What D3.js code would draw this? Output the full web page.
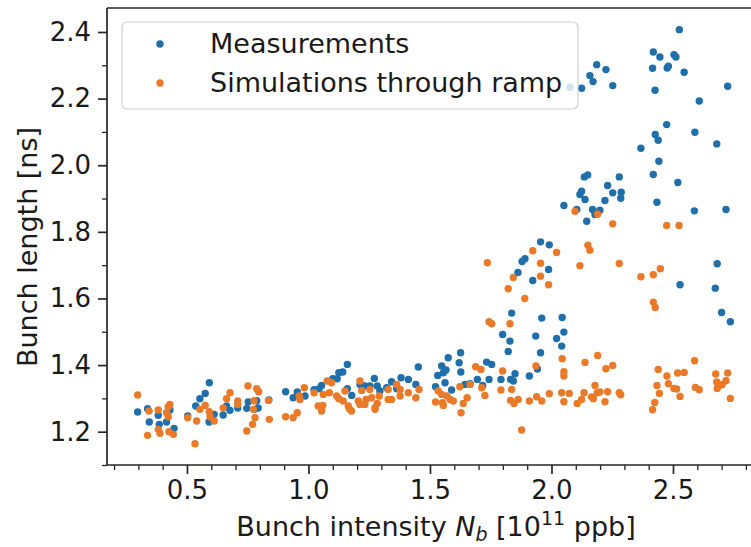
<!DOCTYPE html>
<html>
<head>
<meta charset="utf-8">
<script src="https://cdn.jsdelivr.net/npm/d3@7"></script>
<style>
  html, body { margin: 0; padding: 0; background: #fff; }
  svg { display: block; }
  text { font-family: "DejaVu Sans", sans-serif; fill: #1a1a1a; }
</style>
</head>
<body>
<svg id="chart" width="751" height="547"></svg>
<script>
// ---- Data (bunch intensity in 1e11 ppb, bunch length in ns) ----
const measX = [0.297,0.338,0.345,0.382,0.386,0.416,0.430,0.447,0.503,0.536,0.553,0.575,0.592,0.591,0.612,0.649,0.663,0.677,0.709,0.746,0.752,0.777,0.793,0.787,0.837,0.906,0.937,0.954,0.986,1.023,
1.044,1.054,1.100,1.118,1.125,1.141,1.160,1.160,1.178,1.212,1.232,1.253,1.271,1.283,1.294,1.322,1.342,1.363,1.381,1.411,1.442,1.452,1.523,1.532,1.548,1.555,1.566,1.575,1.562,1.589,
1.620,1.626,1.627,1.644,1.665,1.695,1.717,1.743,1.733,1.754,1.792,1.832,1.843,1.850,1.909,1.942,1.822,1.955,1.799,1.829,1.935,1.836,1.960,2.044,2.051,2.021,2.042,1.862,1.879,1.891,
1.923,1.988,1.955,1.991,2.051,2.104,2.135,2.149,2.145,2.117,2.124,2.138,2.169,2.199,2.179,2.220,2.231,2.252,2.279,2.287,2.285,2.076,2.124,2.158,2.171,2.186,2.224,2.252,
2.526,2.419,2.446,2.504,2.512,2.416,2.476,2.481,2.546,2.426,2.725,2.608,2.474,2.427,2.439,2.590,2.680,2.368,2.442,2.419,2.520,2.434,2.588,2.718,2.682,2.529,2.674,2.700,2.736];
const measY = [1.259,1.269,1.229,1.249,1.222,1.229,1.265,1.210,1.247,1.277,1.299,1.315,1.347,1.229,1.252,1.250,1.277,1.264,1.271,1.270,1.289,1.267,1.271,1.293,1.295,1.320,1.302,1.319,1.307,1.326,
1.329,1.339,1.359,1.359,1.377,1.379,1.402,1.329,1.309,1.342,1.337,1.337,1.360,1.337,1.322,1.332,1.350,1.329,1.362,1.357,1.342,1.394,1.335,1.369,1.397,1.377,1.385,1.422,1.347,1.325,
1.407,1.437,1.379,1.342,1.344,1.357,1.339,1.357,1.409,1.402,1.357,1.357,1.352,1.374,1.367,1.388,1.441,1.437,1.492,1.472,1.487,1.556,1.541,1.543,1.499,1.480,1.457,1.678,1.711,1.719,
1.654,1.687,1.770,1.761,1.879,1.867,1.965,1.971,1.832,1.912,1.922,1.897,1.867,1.865,1.852,1.894,1.939,1.917,1.965,1.919,1.901,2.234,2.231,2.269,2.251,2.302,2.287,2.239,
2.407,2.340,2.325,2.332,2.325,2.291,2.292,2.297,2.279,2.225,2.237,2.193,2.122,2.092,2.075,2.099,2.064,2.051,2.012,1.972,1.948,1.889,1.863,1.867,1.704,1.641,1.631,1.558,1.530];

const simX = [0.297,0.338,0.344,0.382,0.382,0.389,0.416,0.423,0.430,0.423,0.426,0.444,0.503,0.533,0.540,0.553,0.575,0.592,0.595,0.612,0.649,0.663,0.677,0.709,0.709,0.746,0.770,0.751,0.787,0.795,
0.776,0.835,0.839,0.906,0.937,0.954,0.962,0.983,0.965,1.023,1.040,1.054,1.061,1.077,1.095,1.086,1.116,1.125,1.150,1.143,1.164,1.168,1.177,1.205,1.212,1.219,1.232,1.237,1.253,1.260,
1.274,1.283,1.291,1.328,1.328,1.342,1.363,1.377,1.377,1.411,1.442,1.455,1.523,1.534,1.548,1.555,1.569,1.582,1.596,1.628,1.637,1.653,1.623,1.665,1.688,1.710,1.713,1.726,0.773,0.780,
1.212,1.274,1.552,1.059,2.097,2.190,2.252,1.736,1.923,1.955,2.021,2.150,2.158,2.117,2.279,1.843,1.955,1.988,1.822,1.890,1.743,1.754,1.829,1.799,1.936,2.044,2.051,2.051,2.138,2.190,
2.224,2.252,1.792,1.836,1.832,1.846,1.863,1.877,1.909,1.939,1.960,1.991,2.042,2.051,2.073,2.106,2.124,2.134,2.165,2.172,2.179,2.188,2.199,2.220,2.231,2.279,2.285,2.474,2.525,2.368,
2.419,2.448,2.419,2.427,2.439,2.475,2.434,2.481,2.444,2.425,2.416,2.519,2.546,2.504,2.515,2.529,2.589,2.592,2.608,2.676,2.725,2.680,2.718,2.702,2.686,2.682,2.736];
const simY = [1.310,1.189,1.262,1.265,1.207,1.195,1.257,1.275,1.282,1.245,1.200,1.192,1.242,1.164,1.232,1.267,1.279,1.260,1.245,1.232,1.271,1.299,1.317,1.292,1.282,1.202,1.222,1.337,1.329,1.320,
1.293,1.294,1.237,1.245,1.242,1.257,1.307,1.332,1.297,1.317,1.277,1.262,1.312,1.352,1.347,1.317,1.307,1.299,1.322,1.292,1.277,1.269,1.262,1.292,1.352,1.324,1.282,1.297,1.327,1.302,
1.272,1.285,1.307,1.327,1.297,1.297,1.342,1.327,1.307,1.317,1.302,1.327,1.289,1.322,1.312,1.279,1.307,1.297,1.292,1.257,1.285,1.302,1.335,1.342,1.395,1.387,1.332,1.309,1.267,1.242,
1.282,1.267,1.287,1.279,1.862,1.853,1.824,1.707,1.743,1.706,1.738,1.760,1.745,1.698,1.705,1.663,1.667,1.641,1.629,1.600,1.530,1.524,1.524,1.382,1.397,1.419,1.380,1.367,1.408,1.429,
1.389,1.399,1.325,1.327,1.294,1.285,1.297,1.205,1.292,1.305,1.292,1.314,1.317,1.290,1.315,1.285,1.297,1.317,1.304,1.299,1.339,1.317,1.319,1.290,1.320,1.317,1.311,1.819,1.819,1.665,
1.671,1.689,1.589,1.573,1.387,1.367,1.339,1.344,1.315,1.288,1.266,1.376,1.378,1.330,1.328,1.306,1.413,1.333,1.326,1.373,1.376,1.349,1.353,1.341,1.337,1.330,1.300];

const seriesNames = ["Measurements", "Simulations through ramp"];
const seriesColors = ["#1f6fab", "#ea7a28"];
const xMajorTicks = [0.5, 1.0, 1.5, 2.0, 2.5];
const yMajorTicks = [1.2, 1.4, 1.6, 1.8, 2.0, 2.2, 2.4];
const xMinorTicks = d3.range(2, 29).map(v => v / 10).filter(v => !xMajorTicks.some(m => Math.abs(m - v) < 1e-9));
const yMinorTicks = d3.range(11, 25).map(v => v / 10).filter(v => !yMajorTicks.some(m => Math.abs(m - v) < 1e-9));

// ---- Layout ----
const svg = d3.select("#chart");
const mLeft = 107, mRight = 760, mTop = 8, mBottom = 465;
const x = d3.scaleLinear().domain([0.171, 2.858]).range([mLeft, mRight]);
const y = d3.scaleLinear().domain([1.1, 2.472]).range([mBottom, mTop]);
const axisColor = "#262626";
const tickFont = 26, labelFont = 27;

// Points
const plot = svg.append("g");
const meas = measX.map((v, i) => ({ x: v, y: measY[i] }));
const sim = simX.map((v, i) => ({ x: v, y: simY[i] }));
plot.selectAll("circle.m").data(meas).enter().append("circle")
  .attr("class", "m").attr("cx", d => x(d.x)).attr("cy", d => y(d.y)).attr("r", 3.7)
  .attr("fill", seriesColors[0]);
plot.selectAll("circle.s").data(sim).enter().append("circle")
  .attr("class", "s").attr("cx", d => x(d.x)).attr("cy", d => y(d.y)).attr("r", 3.7)
  .attr("fill", seriesColors[1]);

// Axes
function styleAxis(g) {
  g.select(".domain").remove();
  g.selectAll("line").attr("stroke", axisColor);
  g.selectAll("text").style("font-size", tickFont + "px").attr("fill", "#1a1a1a")
    .style("font-family", "DejaVu Sans, sans-serif");
}
const xAxisMinor = svg.append("g").attr("transform", `translate(0,${mBottom})`)
  .call(d3.axisBottom(x).tickValues(xMinorTicks).tickSize(5).tickFormat(""));
styleAxis(xAxisMinor); xAxisMinor.selectAll("line").attr("stroke-width", 1.3);
const xAxis = svg.append("g").attr("transform", `translate(0,${mBottom})`)
  .call(d3.axisBottom(x).tickValues(xMajorTicks).tickSize(9).tickPadding(7).tickFormat(d3.format(".1f")));
styleAxis(xAxis); xAxis.selectAll("line").attr("stroke-width", 1.7);

const yAxisMinor = svg.append("g").attr("transform", `translate(${mLeft},0)`)
  .call(d3.axisLeft(y).tickValues(yMinorTicks).tickSize(5).tickFormat(""));
styleAxis(yAxisMinor); yAxisMinor.selectAll("line").attr("stroke-width", 1.3);
const yAxis = svg.append("g").attr("transform", `translate(${mLeft},0)`)
  .call(d3.axisLeft(y).tickValues(yMajorTicks).tickSize(9).tickPadding(7).tickFormat(d3.format(".1f")));
styleAxis(yAxis); yAxis.selectAll("line").attr("stroke-width", 1.7);

// Spines
svg.append("line").attr("x1", mLeft).attr("x2", mLeft).attr("y1", mTop).attr("y2", mBottom)
  .attr("stroke", axisColor).attr("stroke-width", 1.7);
svg.append("line").attr("x1", mLeft).attr("x2", mRight).attr("y1", mBottom).attr("y2", mBottom)
  .attr("stroke", axisColor).attr("stroke-width", 1.7);
svg.append("line").attr("x1", mLeft).attr("x2", mRight).attr("y1", mTop).attr("y2", mTop)
  .attr("stroke", axisColor).attr("stroke-width", 1.7);

// Axis labels
const xl = svg.append("text").attr("x", 436).attr("y", 536).attr("text-anchor", "middle")
  .style("font-size", labelFont + "px");
xl.append("tspan").text("Bunch intensity ");
xl.append("tspan").attr("font-style", "italic").text("N");
xl.append("tspan").attr("font-style", "italic").attr("dy", 5).style("font-size", "19px").text("b");
xl.append("tspan").attr("dy", -5).text(" [10");
xl.append("tspan").attr("dy", -11).style("font-size", "19px").text("11");
xl.append("tspan").attr("dy", 11).text(" ppb]");

svg.append("text").attr("transform", `translate(37,247) rotate(-90)`)
  .attr("text-anchor", "middle").style("font-size", labelFont + "px").text("Bunch length [ns]");

// Legend
const lg = svg.append("g");
lg.append("rect").attr("x", 122).attr("y", 22).attr("width", 456).attr("height", 87)
  .attr("rx", 5).attr("fill", "#fff").attr("fill-opacity", 0.8)
  .attr("stroke", "#d0d0d0").attr("stroke-width", 1.2);
seriesNames.forEach((name, i) => {
  const cy = 44 + i * 39;
  lg.append("circle").attr("cx", 160).attr("cy", cy).attr("r", 3.7).attr("fill", seriesColors[i]);
  lg.append("text").attr("x", 210).attr("y", cy + 9).style("font-size", labelFont + "px").text(name);
});
</script>
</body>
</html>
